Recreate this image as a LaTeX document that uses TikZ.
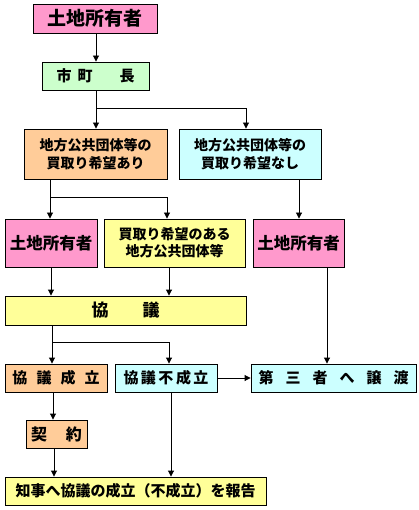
\documentclass[tikz,border=0pt]{standalone}
\usepackage{fontspec}
\newfontfamily\jp{Noto Sans CJK JP}
\usetikzlibrary{arrows.meta}
\definecolor{cpink}{HTML}{FF99CC}
\definecolor{cgreen}{HTML}{CCFFCC}
\definecolor{corange}{HTML}{FFCC99}
\definecolor{ccyan}{HTML}{CCFFFF}
\definecolor{cyellow}{HTML}{FFFF99}
\tikzset{
  box/.style={draw=black, line width=0.9pt, inner sep=0pt, align=center, font=\jp\bfseries},
  two/.style={font=\jp\bfseries\fontsize{14}{18}\selectfont},
  arr/.style={line width=0.9pt, -{Triangle[width=6pt,length=6pt]}},
}
\newcommand{\fs}[1]{\fontsize{#1}{#1}\selectfont}
\begin{document}
\begin{tikzpicture}[x=1pt,y=-1pt]
\useasboundingbox[fill=white] (0,0) rectangle (419,510);
\node[box, fill=cpink, minimum width=124pt, minimum height=29pt] (A) at (95,18.5) {\fs{19}土地所有者};
\node[box, fill=cgreen, minimum width=107pt, minimum height=28pt] (B) at (95.5,76) {\fs{15}市\hspace{6pt}町\hspace{27pt}長};
\node[box, two, fill=corange, minimum width=143pt, minimum height=50pt] (C) at (95.5,154) {地方公共団体等の\\買取り希望あり};
\node[box, two, fill=ccyan, minimum width=142pt, minimum height=50pt] (D) at (250,154) {地方公共団体等の\\買取り希望なし};
\node[box, fill=cpink, minimum width=92pt, minimum height=48pt] (E) at (51,243) {\fs{16.5}土地所有者};
\node[box, two, fill=cyellow, minimum width=141pt, minimum height=48pt, font=\jp\bfseries\fontsize{14}{17}\selectfont] (F) at (174.5,243) {買取り希望のある\\地方公共団体等};
\node[box, fill=cpink, minimum width=91pt, minimum height=48pt] (G) at (298.5,243) {\fs{16.5}土地所有者};
\node[box, fill=cyellow, minimum width=241pt, minimum height=29pt] (H) at (125.5,310.5) {\fs{17}協\hspace{34pt}議};
\node[box, fill=corange, minimum width=102pt, minimum height=28pt] (I) at (56,378) {\fs{15}協\hspace{9pt}議\hspace{9pt}成\hspace{9pt}立};
\node[box, fill=ccyan, minimum width=102pt, minimum height=28pt] (J) at (166,378) {\fs{15}協\hspace{2.5pt}議\hspace{2.5pt}不\hspace{2.5pt}成\hspace{2.5pt}立};
\node[box, fill=ccyan, minimum width=165pt, minimum height=28pt] (K) at (333.5,378) {\fs{15}第\hspace{12pt}三\hspace{12pt}者\hspace{12pt}へ\hspace{12pt}譲\hspace{12pt}渡};
\node[box, fill=corange, minimum width=61pt, minimum height=28pt] (L) at (56.5,434) {\fs{16}契\hspace{19pt}約};
\node[box, fill=cyellow, minimum width=261pt, minimum height=28pt] (M) at (135.5,491) {\fs{15}知事へ協議の成立（不成立）を報告};
% branch coordinates
\coordinate (b1) at (96,108);
\coordinate (b1r) at (246,108);
\coordinate (b2) at (50,197);
\coordinate (b2r) at (167,197);
\coordinate (xF) at (169,0);
\coordinate (xG) at (327,0);
\coordinate (xD) at (299,0);
\coordinate (b3) at (52,342);
\coordinate (b3r) at (169,342);
\coordinate (xI) at (53,0);
\coordinate (xL) at (54,0);
\coordinate (xJ) at (171,0);
% connectors
\draw[arr] (A.south -| b1) -- (B.north -| b1);
\draw[arr] (B.south -| b1) -- (C.north -| b1);
\draw[arr] (b1) -- (b1r) -- (D.north -| b1r);
\draw[arr] (C.south -| b2) -- (E.north -| b2);
\draw[arr] (b2) -- (b2r) -- (F.north -| b2r);
\draw[arr] (D.south -| xD) -- (G.north -| xD);
\draw[arr] (E.south -| E.center) -- (H.north -| E.center);
\draw[arr] (F.south -| xF) -- (H.north -| xF);
\draw[arr] (G.south -| xG) -- (K.north -| xG);
\draw[arr] (H.south -| b3) -- (I.north -| b3);
\draw[arr] (b3) -- (b3r) -- (J.north -| b3r);
\draw[arr] (J.east) -- (K.west);
\draw[arr] (I.south -| xI) -- (L.north -| xI);
\draw[arr] (L.south -| xL) -- (M.north -| xL);
\draw[arr] (J.south -| xJ) -- (M.north -| xJ);
\end{tikzpicture}
\end{document}
